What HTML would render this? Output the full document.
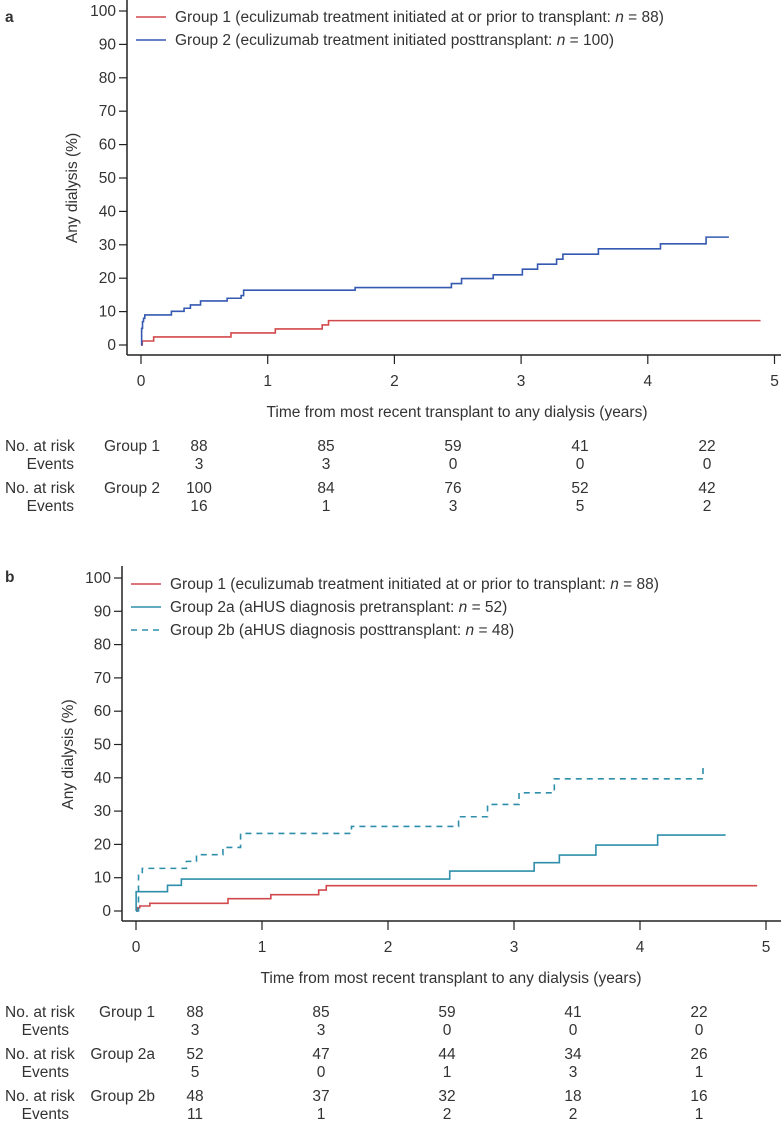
<!DOCTYPE html>
<html><head><meta charset="utf-8"><style>
body{margin:0;background:#fff;}
svg{display:block;font-family:"Liberation Sans",Arial,sans-serif;fill:#333;}
text{font-size:15.5px;fill:#333;}
</style></head><body>
<svg id="chart" width="781" height="1125" viewBox="0 0 781 1125"></svg>
<script>
const xTicks=[0,1,2,3,4,5];
const yTicks=[0,10,20,30,40,50,60,70,80,90,100];
// Panel a
const aG1Times=[0,0.01,0.10,0.71,1.06,1.43,1.48,4.89];
const aG1Vals=[0,1.2,2.4,3.6,4.8,6.0,7.3,7.3];
const aG2Times=[0,0.005,0.012,0.02,0.03,0.24,0.34,0.39,0.47,0.68,0.79,0.81,1.69,2.45,2.53,2.78,3.01,3.13,3.28,3.33,3.61,4.10,4.46,4.64];
const aG2Vals=[0,5,7,8,9,10.1,11,12,13.2,14,14.8,16.4,17.2,18.4,19.9,21,22.7,24.2,25.7,27.2,28.8,30.3,32.3,32.3];
const aRiskLabels=["88","85","59","41","22"];
const aEv1=["3","3","0","0","0"];
const aRisk2=["100","84","76","52","42"];
const aEv2=["16","1","3","5","2"];
// Panel b
const bG1Times=[0,0.01,0.03,0.11,0.73,1.07,1.45,1.51,4.93];
const bG1Vals=[0,1.0,1.5,2.3,3.7,4.9,6.3,7.6,7.6];
const bG2aTimes=[0,0.001,0.25,0.36,2.49,3.16,3.36,3.65,4.14,4.68];
const bG2aVals=[0,5.8,7.7,9.6,12,14.5,16.8,19.8,22.8,22.8];
const bG2bTimes=[0,0.02,0.05,0.40,0.48,0.69,0.83,1.71,2.56,2.79,3.04,3.32,4.50];
const bG2bVals=[0,10.7,12.8,14.9,16.9,19.1,23.3,25.4,28.3,32,35.5,39.7,43];
const bRisk1=["88","85","59","41","22"];
const bEv1=["3","3","0","0","0"];
const bRisk2a=["52","47","44","34","26"];
const bEv2a=["5","0","1","3","1"];
const bRisk2b=["48","37","32","18","16"];
const bEv2b=["11","1","2","2","1"];

const NS="http://www.w3.org/2000/svg";
const svg=document.getElementById('chart');
function el(tag,attrs,parent,txt){const e=document.createElementNS(NS,tag);for(const k in attrs)e.setAttribute(k,attrs[k]);if(txt!==undefined)e.textContent=txt;(parent||svg).appendChild(e);return e;}

function panel(cfg){
  const g=el('g',{});
  
  
  const X=t=>cfg.x0+t*cfg.xs, Y=v=>cfg.y0-v*cfg.ys;
  const lab=el('text',{x:5,y:cfg.labelY,'font-weight':'bold','font-size':'20'},g,cfg.letter);
  
  
  const ya=el('line',{x1:cfg.ax,y1:cfg.yTop,x2:cfg.ax,y2:cfg.axY,stroke:'#222','stroke-width':1.5},g);
  
  
  const xa=el('line',{x1:cfg.ax,y1:cfg.axY,x2:781,y2:cfg.axY,stroke:'#222','stroke-width':1.5},g);
  
  
  yTicks.forEach(v=>{
    const tl=el('line',{x1:cfg.ax-8,y1:Y(v),x2:cfg.ax,y2:Y(v),stroke:'#222','stroke-width':1.2},g);
    
    
    const tt=el('text',{x:cfg.ax-11,y:Y(v)+5,'text-anchor':'end'},g,String(v));
    
    
  });
  xTicks.forEach(v=>{
    const tl=el('line',{x1:X(v),y1:cfg.axY,x2:X(v),y2:cfg.axY+9,stroke:'#222','stroke-width':1.2},g);
    
    
    const tt=el('text',{x:X(v),y:cfg.axY+31,'text-anchor':'middle'},g,String(v));
    
    
  });
  const yt=el('text',{x:0,y:0,'text-anchor':'middle',transform:`translate(${cfg.ytX},${Y(50)+10}) rotate(-90)`},g,'Any dialysis (%)');
  
  
  const xt=el('text',{x:cfg.xtC,y:cfg.axY+62,'text-anchor':'middle'},g,'Time from most recent transplant to any dialysis (years)');
  
  
  cfg.series.forEach(s=>{
    let d=`M${X(s.t[0])},${Y(s.v[0])}`;
    for(let i=1;i<s.t.length;i++){d+=` H${X(s.t[i])} V${Y(s.v[i])}`;}
    const p=el('path',{d:d,fill:'none',stroke:s.color,'stroke-width':1.6,'stroke-dasharray':s.dash||'none'},g);
    
    
  });
  cfg.legend.forEach((L,i)=>{
    const y=cfg.legY+i*23;
    const ln=el('line',{x1:cfg.legX,y1:y,x2:cfg.legX+30,y2:y,stroke:L.color,'stroke-width':1.6,'stroke-dasharray':L.dash||'none'},g);
    
    
    const t=el('text',{x:cfg.legX+39,y:y+5},g);
    
    
    t.appendChild(document.createTextNode(L.a));
    el('tspan',{'font-style':'italic'},t,'n');
    t.appendChild(document.createTextNode(L.b));
  });
  cfg.rows.forEach((r,i)=>{
    const y=cfg.rowY[i];
    const c1=el('text',{x:r.ev?cfg.rowLabR:5,y:y+5,'text-anchor':r.ev?'end':'start'},g,r.ev?'Events':'No. at risk');
    
    
    if(r.grp){const gl=el('text',{x:cfg.grpR,y:y+5,'text-anchor':'end'},g,r.grp);
      
      }
    r.vals.forEach((v,j)=>{
      const c=el('text',{x:cfg.colX0+j*cfg.colDx,y:y+5,'text-anchor':'middle'},g,v);
      
      
    });
  });
}

panel({name:'panel-a',letter:'a',labelY:22,x0:141,xs:126.7,y0:345,ys:3.34,ax:127,yTop:0,axY:355,ytX:77,xtC:457,
  series:[{id:'group1-curve',t:aG1Times,v:aG1Vals,color:'#d2494c'},{id:'group2-curve',t:aG2Times,v:aG2Vals,color:'#3559b0'}],
  legX:136,legY:17,
  legend:[{color:'#d2494c',a:'Group 1 (eculizumab treatment initiated at or prior to transplant: ',b:' = 88)'},
          {color:'#3559b0',a:'Group 2 (eculizumab treatment initiated posttransplant: ',b:' = 100)'}],
  rowY:[446,464,488,506],rowLabR:74,grpR:160,colX0:199,colDx:127,
  rows:[{grp:'Group 1',vals:aRiskLabels},{ev:1,vals:aEv1},{grp:'Group 2',vals:aRisk2},{ev:1,vals:aEv2}]
});
panel({name:'panel-b',letter:'b',labelY:582,x0:136,xs:126,y0:911,ys:3.33,ax:122,yTop:566,axY:921,ytX:73,xtC:451,
  series:[{id:'group1-curve',t:bG1Times,v:bG1Vals,color:'#d2494c'},{id:'group2a-curve',t:bG2aTimes,v:bG2aVals,color:'#2f8fab'},{id:'group2b-curve',t:bG2bTimes,v:bG2bVals,color:'#2f8fab',dash:'6,5'}],
  legX:131,legY:584,
  legend:[{color:'#d2494c',a:'Group 1 (eculizumab treatment initiated at or prior to transplant: ',b:' = 88)'},
          {color:'#2f8fab',a:'Group 2a (aHUS diagnosis pretransplant: ',b:' = 52)'},
          {color:'#2f8fab',dash:'6,5',a:'Group 2b (aHUS diagnosis posttransplant: ',b:' = 48)'}],
  rowY:[1012,1030,1054,1072,1096,1114],rowLabR:69,grpR:155,colX0:195,colDx:126,
  rows:[{grp:'Group 1',vals:bRisk1},{ev:1,vals:bEv1},{grp:'Group 2a',vals:bRisk2a},{ev:1,vals:bEv2a},{grp:'Group 2b',vals:bRisk2b},{ev:1,vals:bEv2b}]
});
</script>
</body></html>
